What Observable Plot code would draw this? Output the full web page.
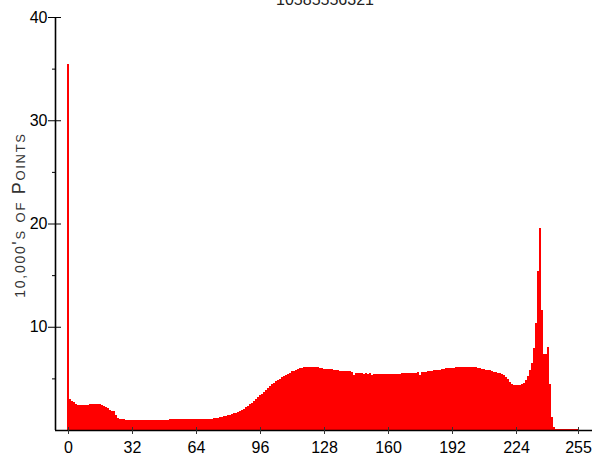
<!DOCTYPE html>
<html>
<head>
<meta charset="utf-8">
<script src="https://cdn.jsdelivr.net/npm/d3@7"></script>
<script src="https://cdn.jsdelivr.net/npm/@observablehq/plot@0.6"></script>
<style>
  html, body { margin: 0; padding: 0; background: #fff; }
  #wrap { position: relative; width: 594px; height: 456px; overflow: hidden; }
  #title { position: absolute; top: -9px; left: 0; width: 650px; text-align: center;
           font-family: "Liberation Sans", Arial, sans-serif; font-size: 16px; color: #222; }
</style>
</head>
<body>
<div id="wrap"><div id="title"></div></div>
<script>
const titleText = "10585556321";
const yLabelNumber = "10,000";
const yLabelRest = "'s of Points";
const xTicks = [0, 32, 64, 96, 128, 160, 192, 224, 255];
const yTicks = [10, 20, 30, 40];
const yMinorTicks = [5, 15, 25, 35];
const xDomain = [-6.5, 262];
const yDomain = [0, 40];
// counts per intensity bin 0..255 (in 10,000's of points)
const counts = [
  35.4, 2.98, 2.85, 2.69, 2.5, 2.45, 2.42, 2.4, 2.4, 2.4, 2.42, 2.48, 2.52, 2.52, 2.52, 2.5,
  2.48, 2.4, 2.33, 2.22, 2.15, 1.95, 1.85, 1.85, 1.45, 1.2, 1.1, 1.05, 1.02, 1.0, 0.97, 0.97,
  0.96, 0.96, 0.97, 0.96, 0.96, 0.97, 0.97, 0.96, 0.97, 0.97, 0.98, 0.97, 0.98, 0.98, 0.99, 0.98,
  0.99, 1.0, 1.01, 1.02, 1.02, 1.03, 1.02, 1.03, 1.03, 1.02, 1.03, 1.03, 1.04, 1.04, 1.04, 1.04,
  1.04, 1.05, 1.05, 1.05, 1.06, 1.06, 1.07, 1.08, 1.1, 1.12, 1.15, 1.18, 1.23, 1.28, 1.32, 1.37,
  1.42, 1.48, 1.55, 1.61, 1.68, 1.77, 1.86, 1.95, 2.08, 2.2, 2.33, 2.48, 2.64, 2.8, 2.98, 3.17,
  3.35, 3.52, 3.7, 3.88, 4.05, 4.22, 4.42, 4.6, 4.74, 4.85, 4.98, 5.1, 5.22, 5.33, 5.44, 5.56,
  5.68, 5.76, 5.85, 5.92, 5.97, 6.02, 6.06, 6.1, 6.12, 6.14, 6.15, 6.14, 6.1, 6.08, 6.05, 6.02,
  5.95, 5.92, 5.92, 5.9, 5.88, 5.85, 5.83, 5.8, 5.75, 5.73, 5.72, 5.72, 5.7, 5.7, 5.66, 5.3,
  5.5, 5.5, 5.48, 5.5, 5.47, 5.5, 5.46, 5.48, 5.34, 5.44, 5.45, 5.43, 5.44, 5.42, 5.44, 5.45,
  5.44, 5.43, 5.45, 5.44, 5.46, 5.45, 5.47, 5.48, 5.5, 5.5, 5.52, 5.5, 5.53, 5.55, 5.56, 5.58,
  5.3, 5.62, 5.65, 5.66, 5.68, 5.7, 5.75, 5.78, 5.8, 5.83, 5.85, 5.88, 5.92, 5.96, 6.0, 6.02,
  6.05, 6.05, 6.08, 6.1, 6.12, 6.15, 6.15, 6.14, 6.15, 6.15, 6.14, 6.13, 6.1, 6.05, 6.0, 5.93,
  5.9, 5.85, 5.83, 5.78, 5.72, 5.66, 5.62, 5.55, 5.5, 5.38, 5.3, 5.18, 4.92, 4.69, 4.47, 4.37,
  4.35, 4.35, 4.37, 4.47, 4.6, 4.85, 5.2, 5.8, 6.5, 7.9, 10.4, 15.4, 19.6, 11.65, 7.4, 7.4,
  8.0, 4.5, 1.3, 0.3, 0.1, 0.1, 0.1, 0.1, 0.1, 0.08, 0.06, 0.05, 0.05, 0.05, 0.05, 0.05
];
const bins = counts.map((v, i) => ({bin: i, value: v}));

document.getElementById("title").textContent = titleText;

const chart = Plot.plot({
  width: 594,
  height: 456,
  marginLeft: 55,
  marginRight: 2,
  marginTop: 17,
  marginBottom: 26,
  x: {domain: xDomain, axis: null},
  y: {domain: yDomain, axis: null},
  style: {fontFamily: "'Liberation Sans', Arial, sans-serif", fontSize: "16px", color: "#000", background: "transparent", overflow: "visible"},
  marks: [
    Plot.rect(bins, {x1: d => d.bin - 0.5, x2: d => d.bin + 0.5, y1: 0, y2: "value", fill: "#ff0000", shapeRendering: "crispEdges"}),
    Plot.ruleY([yDomain[0]], {stroke: "#000", strokeWidth: 1.6}),
    Plot.ruleX([xDomain[0]], {stroke: "#000", strokeWidth: 1.6}),
    Plot.axisY(yTicks, {tickSize: 13, dx: 6, tickFormat: () => "", stroke: "#000", label: null}),
    Plot.axisY(yMinorTicks, {tickSize: 3, tickFormat: () => "", stroke: "#000", label: null}),
    Plot.axisY(yTicks, {tickSize: 0, tickPadding: 8, fontSize: 16, fill: "#000", label: null}),
    Plot.axisX(xTicks, {tickSize: 7, dy: -3, tickFormat: () => "", stroke: "#333", label: null}),
    Plot.axisX(xTicks, {tickSize: 0, tickPadding: 11, fontSize: 16, fill: "#000", label: null}),
    Plot.text([yLabelNumber + yLabelRest], {frameAnchor: "left", textAnchor: "middle", rotate: -90, dx: -36, dy: -9,
      fontSize: 18, fontVariant: "small-caps", fill: "#333", text: d => d, className: "ylabel"})
  ]
});
// render the numeric part at small-cap height, like the reference
const lbl = d3.select(chart).select(".ylabel text");
lbl.text(null).attr("letter-spacing", 1.7);
lbl.append("tspan").attr("font-size", 14).text(yLabelNumber);
lbl.append("tspan").text(yLabelRest);
document.getElementById("wrap").appendChild(chart);
</script>
</body>
</html>
